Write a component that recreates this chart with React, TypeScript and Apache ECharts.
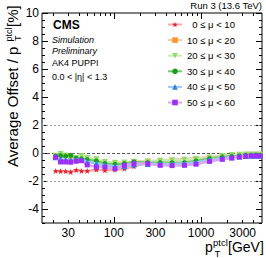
import React, { useEffect, useRef } from 'react';
import * as echarts from 'echarts';

const FONT = '"Liberation Sans", Arial, Helvetica, sans-serif';

// pT bin centres (GeV)
const ptBins = [21.5, 24.5, 28, 32, 37, 42.5, 49.5, 63, 79, 103, 132, 170, 245, 340, 465, 645, 875, 1250, 1750, 2250, 2750, 3250, 3750, 4250, 4750];

// Average offset / pT (%) per pile-up bin
const mu0to10 = [-1.28, -1.3, -1.3, -1.36, -1.22, -1.28, -1.28, -1.19, -1.24, -1.19, -1.12, -0.95, -0.7, -0.58, -0.5, -0.45, -0.38, -0.3, -0.22, -0.16, -0.13, -0.12, -0.11, -0.11, -0.1];
const mu10to20 = [-0.3, -0.25, -0.17, -0.35, -0.45, -0.5, -0.55, -0.65, -0.75, -0.72, -0.7, -0.62, -0.58, -0.55, -0.52, -0.48, -0.42, -0.32, -0.22, -0.15, -0.13, -0.12, -0.12, -0.11, -0.11];
const mu20to30 = [-0.2, -0.08, -0.2, -0.25, -0.35, -0.22, -0.35, -0.45, -0.65, -0.7, -0.68, -0.62, -0.6, -0.55, -0.52, -0.48, -0.42, -0.33, -0.22, -0.15, -0.12, -0.11, -0.11, -0.1, -0.1];
const mu30to40 = [-0.22, -0.19, -0.22, -0.17, -0.38, -0.42, -0.48, -0.57, -0.76, -0.81, -0.76, -0.64, -0.69, -0.69, -0.69, -0.69, -0.57, -0.4, -0.29, -0.24, -0.21, -0.17, -0.17, -0.15, -0.17];
const mu40to50 = [-0.3, -0.45, -0.5, -0.5, -0.48, -0.5, -0.62, -0.75, -0.88, -0.95, -0.95, -0.82, -0.78, -0.78, -0.78, -0.75, -0.68, -0.5, -0.38, -0.3, -0.25, -0.22, -0.2, -0.2, -0.2];
const mu50to60 = [-0.3, -0.64, -0.64, -0.66, -0.59, -0.55, -0.85, -1.0, -1.0, -1.12, -0.88, -0.76, -0.76, -0.88, -0.9, -0.88, -0.8, -0.6, -0.45, -0.36, -0.29, -0.24, -0.21, -0.21, -0.21];

const seriesNames = ['0 ≤ μ < 10', '10 ≤ μ < 20', '20 ≤ μ < 30', '30 ≤ μ < 40', '40 ≤ μ < 50', '50 ≤ μ < 60'];
const seriesValues = [mu0to10, mu10to20, mu20to30, mu30to40, mu40to50, mu50to60];

const xTickLabels = [30, 100, 300, 1000, 3000];
const xMajorTicks = [100, 1000];
const xMinorTicks = [20, 30, 40, 50, 60, 70, 80, 90, 200, 300, 400, 500, 600, 700, 800, 900, 2000, 3000, 4000];
const yTickLabels = [-4, -2, 0, 2, 4, 6, 8, 10];
const yMinorTicks = [-5, -4.5, -3.5, -3, -2.5, -1.5, -1, -0.5, 0.5, 1, 1.5, 2.5, 3, 3.5, 4.5, 5, 5.5, 6.5, 7, 7.5, 8.5, 9, 9.5];

const markerColors = ['#e8202a', '#ff9433', '#95db6a', '#17a017', '#2f82ec', '#9a30f7'];
const lineColors = ['#f6a8ae', '#ffc68e', '#cbeeb0', '#74c874', '#9cc8f6', '#d4a8fb'];
const symbols = [
  'path://M0,-10L2.35,-3.24L9.51,-3.09L3.8,1.24L5.88,8.09L0,4L-5.88,8.09L-3.8,1.24L-9.51,-3.09L-2.35,-3.24Z',
  'rect',
  'path://M-5,-4L5,-4L0,5Z',
  'circle',
  'triangle',
  'rect',
];
const symbolSizes = [6, 5, 6, 5, 6, 5];

const lg = (v: number) => Math.log10(v);
const X_MIN = lg(15);
const X_MAX = lg(5000);

function xAxisDef(position: string, ticks: number[], len: number, labels: boolean) {
  return {
    type: 'value',
    min: X_MIN,
    max: X_MAX,
    position,
    axisLine: { show: false, onZero: false },
    splitLine: { show: false },
    axisTick: { show: true, inside: true, length: len, customValues: ticks.map(lg), lineStyle: { color: '#000', width: 1 } },
    axisLabel: labels
      ? {
          show: true,
          customValues: xTickLabels.map(lg),
          formatter: (v: number) => String(Math.round(Math.pow(10, v))),
          fontSize: 12,
          fontFamily: FONT,
          color: '#000',
          margin: 4,
        }
      : { show: false },
  };
}

function yAxisDef(position: string, ticks: number[], len: number, labels: boolean) {
  return {
    type: 'value',
    min: -5,
    max: 10,
    position,
    axisLine: { show: false, onZero: false },
    splitLine: { show: false },
    axisTick: { show: true, inside: true, length: len, customValues: ticks, lineStyle: { color: '#000', width: 1 } },
    axisLabel: labels
      ? { show: true, customValues: yTickLabels, fontSize: 12, fontFamily: FONT, color: '#000', margin: 3 }
      : { show: false },
  };
}

const txt = (text: string, x: number, y: number, size: number, extra: any = {}) => ({
  type: 'text',
  x,
  y,
  silent: true,
  style: { text, fontSize: size, fontFamily: FONT, fill: '#000', align: 'left', verticalAlign: 'middle', ...extra },
});

function buildOption() {
  const series = seriesNames.map((name, i) => ({
    type: 'line',
    name,
    xAxisIndex: 0,
    yAxisIndex: 0,
    data: ptBins.map((p, j) => [lg(p), seriesValues[i][j]]),
    symbol: symbols[i],
    symbolSize: symbolSizes[i],
    itemStyle: { color: markerColors[i] },
    lineStyle: { color: lineColors[i], width: 2.5 },
    z: 3 + i,
    markLine:
      i === 0
        ? {
            silent: true,
            symbol: ['none', 'none'],
            label: { show: false },
            data: [
              { yAxis: 0, lineStyle: { color: '#555', type: [3, 2], width: 1 } },
              { yAxis: 2, lineStyle: { color: '#999', type: [2, 2], width: 1 } },
              { yAxis: -2, lineStyle: { color: '#999', type: [2, 2], width: 1 } },
            ],
          }
        : undefined,
  }));

  return {
    animation: false,
    grid: { left: 42, right: 4, top: 13, bottom: 35, show: true, borderColor: '#000', borderWidth: 1, backgroundColor: 'transparent' },
    xAxis: [
      xAxisDef('bottom', xMinorTicks, 3, true),
      xAxisDef('bottom', xMajorTicks, 6, false),
      xAxisDef('top', xMinorTicks, 3, false),
      xAxisDef('top', xMajorTicks, 6, false),
    ],
    yAxis: [
      yAxisDef('left', yTickLabels, 6, true),
      yAxisDef('left', yMinorTicks, 3, false),
      yAxisDef('right', yTickLabels, 6, false),
      yAxisDef('right', yMinorTicks, 3, false),
    ],
    legend: {
      orient: 'vertical',
      left: 167,
      top: 19.5,
      padding: 0,
      itemWidth: 14,
      itemHeight: 7,
      itemGap: 5.6,
      data: seriesNames,
      formatter: (name: string) => (name === seriesNames[0] ? `{p|}${name}` : name),
      textStyle: { fontSize: 9.5, fontFamily: FONT, color: '#000', rich: { p: { width: 5.3 } } },
    },
    graphic: [
      txt('Run 3 (13.6 TeV)', 262, 5, 9.5, { align: 'right' }),
      txt('CMS', 53, 25, 12, { fontWeight: 'bold' }),
      txt('Simulation', 52, 40.3, 9, { fontStyle: 'italic' }),
      txt('Preliminary', 52, 50.8, 9, { fontStyle: 'italic' }),
      txt('AK4 PUPPI', 52, 62.7, 9),
      txt('0.0 < |η| < 1.3', 52, 76.5, 9),
      // x-axis title
      txt('p', 205, 247, 14),
      txt('ptcl', 213, 242.3, 9.5),
      txt('T', 214.5, 253.3, 9.5),
      txt('[GeV]', 228, 246.5, 14),
      // y-axis title (rotated)
      {
        type: 'group',
        x: 12.5,
        y: 167,
        rotation: Math.PI / 2,
        silent: true,
        children: [
          txt('Average Offset / p', 0, 0, 15),
          txt('ptcl', 125.5, -3.5, 9),
          txt('T', 126, 5.5, 9),
          txt('[%]', 140, 0, 15),
        ],
      },
    ],
    series,
  };
}

export default function App() {
  const ref = useRef<HTMLDivElement>(null);
  useEffect(() => {
    document.body.style.margin = '0';
    const chart = echarts.init(ref.current!, null, { renderer: 'svg' });
    chart.setOption(buildOption() as any);
    return () => chart.dispose();
  }, []);
  return <div ref={ref} style={{ width: 266, height: 258 }} />;
}
